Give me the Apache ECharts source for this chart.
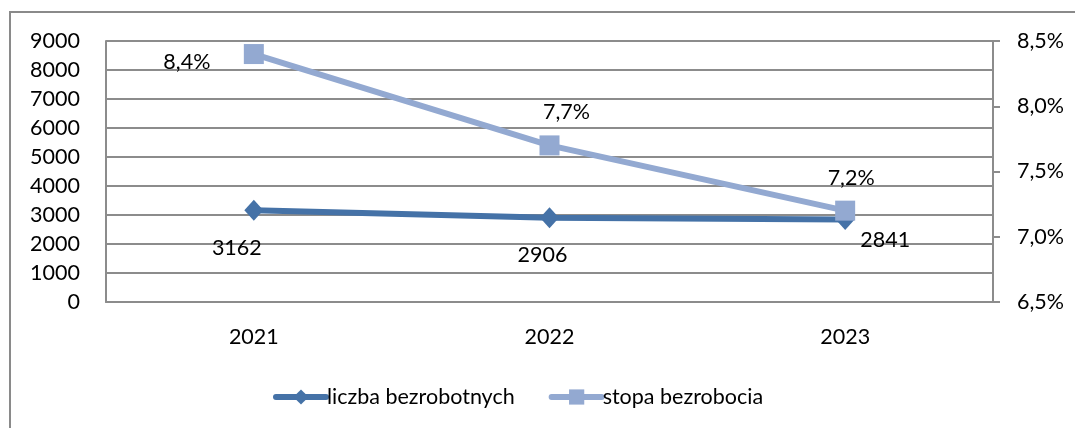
<!DOCTYPE html>
<html>
<head>
<meta charset="utf-8">
<script src="https://cdn.jsdelivr.net/npm/echarts@6/dist/echarts.min.js"></script>
<style>
  html, body { margin: 0; padding: 0; background: #fff; }
  #chart { width: 1075px; height: 428px; }
</style>
</head>
<body>
<div id="chart"></div>
<script>
// data
const years = ['2021', '2022', '2023']
const liczbaBezrobotnych = [3162, 2906, 2841]
const stopaBezrobocia = [8.4, 7.7, 7.2] // %

// label nudges (px), Excel had them placed by hand
const liczbaLabelOffsets = [[-17, 38], [-7, 37], [40, 20]]
const stopaLabelOffsets = [[-67, 8], [17, -33], [6, -33]]

const FONT = 'Lato'
const FS = 21.5
const gridColor = '#8c8c8c'
const darkBlue = '#4572A7'
const lightBlue = '#93A9D1'

const pct = v => v.toFixed(1).replace('.', ',') + '%'

const chart = echarts.init(document.getElementById('chart'), null, { renderer: 'canvas' })

chart.setOption({
  animation: false,
  textStyle: { fontFamily: FONT, color: '#000' },
  graphic: [{
    type: 'polyline',
    shape: { points: [[10, 428], [10, 12], [1075, 12]] },
    style: { stroke: '#8a8a8a', lineWidth: 2, fill: null },
  }],
  grid: { left: 106, right: 82, top: 41, bottom: 126 },
  legend: {
    left: 268,
    top: 381,
    itemWidth: 50,
    itemHeight: 19,
    itemGap: 34,
    textStyle: { fontFamily: FONT, fontSize: FS, color: '#000', padding: [0, 0, 0, -4] },
    data: [
      { name: 'liczba bezrobotnych', lineStyle: { width: 6, cap: 'round' } },
      { name: 'stopa bezrobocia', lineStyle: { width: 6, cap: 'round' } },
    ],
  },
  xAxis: {
    type: 'category',
    data: years,
    boundaryGap: true,
    axisLine: { lineStyle: { color: gridColor, width: 2 } },
    axisTick: { show: false },
    axisLabel: { fontFamily: FONT, fontSize: FS, color: '#000', margin: 24 },
  },
  yAxis: [{
    type: 'value',
    min: 0,
    max: 9000,
    interval: 1000,
    axisLine: { show: true, lineStyle: { color: gridColor, width: 2 } },
    axisTick: { show: false },
    axisLabel: { fontFamily: FONT, fontSize: FS, color: '#000', margin: 26, formatter: v => String(v) },
    splitLine: { lineStyle: { color: gridColor, width: 2 } },
  }, {
    type: 'value',
    position: 'right',
    min: 6.5,
    max: 8.5,
    interval: 0.5,
    axisLine: { show: true, lineStyle: { color: gridColor, width: 2 } },
    axisTick: { show: true, inside: false, length: 7, lineStyle: { color: gridColor, width: 2 } },
    axisLabel: { fontFamily: FONT, fontSize: FS, color: '#000', margin: 24, formatter: pct },
    splitLine: { show: false },
  }],
  series: [{
    name: 'liczba bezrobotnych',
    type: 'line',
    yAxisIndex: 0,
    symbol: 'diamond',
    symbolSize: [19, 21],
    lineStyle: { color: darkBlue, width: 6 },
    itemStyle: { color: darkBlue },
    data: liczbaBezrobotnych.map((v, i) => ({
      value: v,
      label: {
        show: true,
        position: 'inside',
        offset: liczbaLabelOffsets[i],
        fontFamily: FONT,
        fontSize: FS,
        color: '#000',
        formatter: p => String(p.value),
      },
    })),
  }, {
    name: 'stopa bezrobocia',
    type: 'line',
    yAxisIndex: 1,
    symbol: 'rect',
    symbolSize: 20,
    lineStyle: { color: lightBlue, width: 6 },
    itemStyle: { color: lightBlue },
    data: stopaBezrobocia.map((v, i) => ({
      value: v,
      label: {
        show: true,
        position: 'inside',
        offset: stopaLabelOffsets[i],
        fontFamily: FONT,
        fontSize: FS,
        color: '#000',
        formatter: p => pct(p.value),
      },
    })),
  }],
})
</script>
</body>
</html>
